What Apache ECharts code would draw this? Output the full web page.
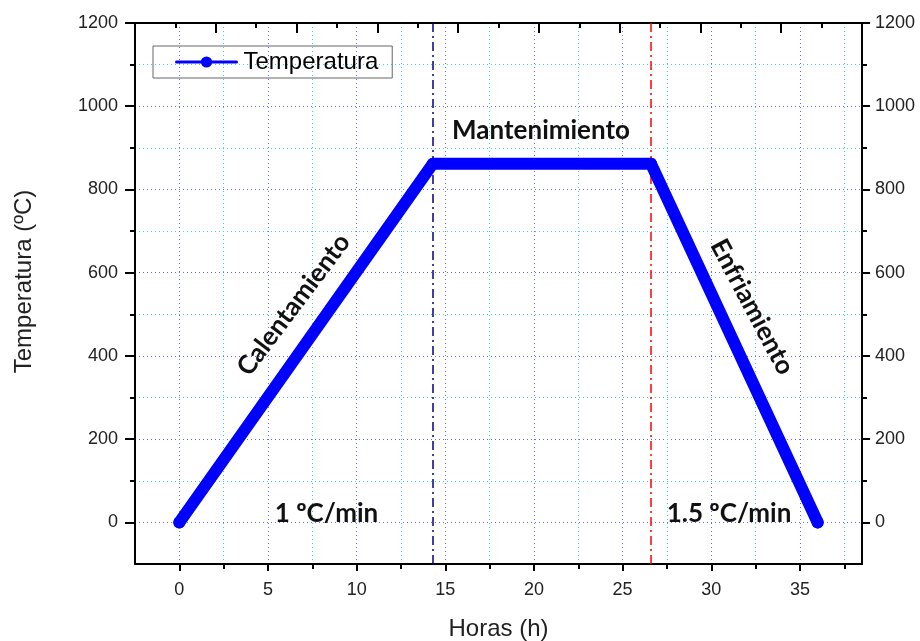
<!DOCTYPE html>
<html lang="es">
<head>
    <meta charset="UTF-8">
    <title>Temperatura - Horas</title>
    <script src="https://cdn.jsdelivr.net/npm/echarts@6/dist/echarts.min.js"></script>
    <style>
        html, body { margin: 0; padding: 0; background: #fff; }
        #chart { width: 920px; height: 641px; }
    </style>
</head>
<body>
<div id="chart"></div>
<script>
    // datos del ciclo termico
    const horas = [0, 14.3, 26.6, 36.0];
    const temperatura = [0, 862, 862, 0];

    // ticks
    const xMajor = [0, 5, 10, 15, 20, 25, 30, 35];
    const xMinor = [2.5, 7.5, 12.5, 17.5, 22.5, 27.5, 32.5, 37.5];
    const yMajor = [0, 200, 400, 600, 800, 1000, 1200];
    const yMinor = [100, 300, 500, 700, 900, 1100];

    // lineas verticales y textos
    const inicioMant = 14.3;
    const finMant = 26.6;
    const etiquetas = ['Calentamiento', 'Mantenimiento', 'Enfriamiento', '1 ºC/min', '1.5 ºC/min'];
    const etiquetaX = [6.45, 20.4, 32.3, 8.3, 31.0];
    const etiquetaY = [523, 941, 518, 22, 22];
    const etiquetaRot = [53, 0, -62, 0, 0];

    const fontAxis = 'Liberation Sans, Arial, sans-serif';
    const fontNote = 'Lato, Open Sans, sans-serif';
    const axisLine = {show: true, onZero: false, lineStyle: {color: '#000', width: 2}};
    const noLine = {show: false, onZero: false};
    const majorGrid = {show: true, lineStyle: {color: '#6b6bf2', type: [1, 3], width: 1}};
    const minorGrid = {show: true, lineStyle: {color: '#3fd2d2', type: [1, 3], width: 1}};
    const fmt = function (v) { return String(v); };

    let serieData = horas.map(function (h, i) { return [h, temperatura[i]]; });

    let myChart = echarts.init(document.getElementById('chart'));
    let option = {
        animation: false,
        grid: {left: 135, right: 58, top: 23, bottom: 77, containLabel: false, outerBoundsMode: 'none'},
        legend: {
            left: 153,
            top: 46,
            padding: [4, 14, 4, 22],
            borderColor: '#666',
            borderWidth: 1,
            itemWidth: 60,
            itemHeight: 14,
            itemGap: 10,
            lineStyle: {width: 3},
            textStyle: {fontFamily: fontAxis, fontSize: 24, color: '#000', padding: [0, 0, 0, 2]},
            data: ['Temperatura']
        },
        xAxis: [
            {
                type: 'value', position: 'bottom', min: -2.5, max: 38.5,
                name: 'Horas (h)', nameLocation: 'middle', nameGap: 53,
                nameTextStyle: {fontFamily: fontAxis, fontSize: 24, color: '#222'},
                axisLine: axisLine,
                axisTick: {show: true, length: 7, customValues: xMajor, lineStyle: {color: '#000', width: 2}},
                axisLabel: {customValues: xMajor, formatter: fmt, margin: 17, fontFamily: fontAxis, fontSize: 18, color: '#222'},
                splitLine: majorGrid
            },
            {
                type: 'value', position: 'bottom', min: -2.5, max: 38.5,
                axisLine: noLine,
                axisTick: {show: true, length: 5, customValues: xMinor, lineStyle: {color: '#000', width: 2}},
                axisLabel: {show: false, customValues: xMinor},
                splitLine: minorGrid
            },
            {
                type: 'value', position: 'top', min: 0, max: 18, interval: 2,
                axisLine: axisLine,
                axisTick: {show: true, inside: true, length: 10, lineStyle: {color: '#000', width: 2}},
                minorTick: {show: true, splitNumber: 2, length: 5, lineStyle: {color: '#000', width: 2}},
                axisLabel: {show: false},
                splitLine: {show: false}
            }
        ],
        yAxis: [
            {
                type: 'value', position: 'left', min: -100, max: 1200,
                name: 'Temperatura (ºC)', nameLocation: 'middle', nameGap: 99,
                nameTextStyle: {fontFamily: fontAxis, fontSize: 24, color: '#222', padding: [0, 0, 0, 24]},
                axisLine: axisLine,
                axisTick: {show: true, length: 10, customValues: yMajor, lineStyle: {color: '#000', width: 2}},
                axisLabel: {customValues: yMajor, formatter: fmt, margin: 17, fontFamily: fontAxis, fontSize: 18, color: '#222'},
                splitLine: majorGrid
            },
            {
                type: 'value', position: 'left', min: -100, max: 1200,
                axisLine: noLine,
                axisTick: {show: true, length: 5, customValues: yMinor, lineStyle: {color: '#000', width: 2}},
                axisLabel: {show: false, customValues: yMinor},
                splitLine: minorGrid
            },
            {
                type: 'value', position: 'right', min: -100, max: 1200,
                axisLine: axisLine,
                axisTick: {show: true, length: 8, customValues: yMajor, lineStyle: {color: '#000', width: 2}},
                axisLabel: {customValues: yMajor, formatter: fmt, margin: 13, fontFamily: fontAxis, fontSize: 18, color: '#222'},
                splitLine: {show: false}
            },
            {
                type: 'value', position: 'right', min: -100, max: 1200,
                axisLine: noLine,
                axisTick: {show: true, length: 5, customValues: yMinor, lineStyle: {color: '#000', width: 2}},
                axisLabel: {show: false, customValues: yMinor},
                splitLine: {show: false}
            }
        ],
        series: [
            {
                name: 'Temperatura',
                type: 'line',
                xAxisIndex: 0,
                yAxisIndex: 0,
                data: serieData,
                symbol: 'circle',
                symbolSize: 12,
                showSymbol: true,
                itemStyle: {color: '#0000ff'},
                lineStyle: {color: '#0000ff', width: 12, cap: 'round', join: 'round'},
                z: 5,
                markLine: {
                    silent: true,
                    symbol: 'none',
                    label: {show: false},
                    data: [
                        {xAxis: inicioMant, lineStyle: {color: '#00008b', width: 1.5, type: [9, 4, 2, 4]}},
                        {xAxis: finMant, lineStyle: {color: '#ff0000', width: 1.5, type: [9, 4, 2, 4]}}
                    ]
                }
            }
        ]
    };
    myChart.setOption(option);

    // textos de las etapas, colocados en coordenadas de datos
    let textos = etiquetas.map(function (t, i) {
        let p = myChart.convertToPixel({xAxisIndex: 0, yAxisIndex: 0}, [etiquetaX[i], etiquetaY[i]]);
        return {
            type: 'text',
            x: p[0],
            y: p[1],
            rotation: etiquetaRot[i] * Math.PI / 180,
            z: 20,
            style: {
                text: t,
                fill: '#111',
                font: 'bold 26px ' + fontNote,
                align: 'center',
                verticalAlign: 'middle'
            }
        };
    });
    myChart.setOption({graphic: textos});
</script>
</body>
</html>
